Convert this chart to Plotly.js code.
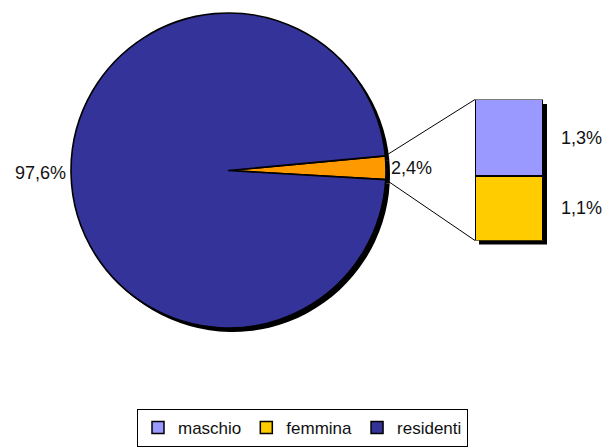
<!DOCTYPE html>
<html><head><meta charset="utf-8">
<script src="https://cdn.plot.ly/plotly-3.0.1.min.js"></script>
<style>html,body{margin:0;padding:0;background:#fff}#chart{width:610px;height:448px}</style>
</head><body><div id="chart"></div>
<script>
// ---- data ----
const pieLabels = ['non residenti', 'residenti'];
const pieValues = [2.4, 97.6];
const barLabels = ['femmina', 'maschio'];   // stack order: bottom to top
const barValues = [1.1, 1.3];
const legendOrder = ['maschio', 'femmina', 'residenti'];
const pieColors = ['#FF9900', '#333399'];
const barColors = {maschio: '#9999FF', femmina: '#FFCC00'};

// ---- geometry / style ----
const W = 610, H = 448;
const FONT = 'Liberation Sans, Arial, sans-serif';
const fmt = v => v.toFixed(1).replace('.', ',') + '%';
const pie = {cx: 228.5, cy: 170.5, r: 157.5};
const SH = 4;   // shadow offset px
const bar = {x0: 475, x1: 543, y0: 99.5, y1: 240.5};
const px = x => x / W, py = y => 1 - y / H;

const total = pieValues.reduce((a, b) => a + b, 0);
const barTotal = barValues.reduce((a, b) => a + b, 0);
const half = pieValues[0] / total * 180;
const tilt = 1;
const rotation = 90 - half - tilt;

function pieDomain(dx, dy) {
  return {
    x: [px(pie.cx - pie.r + dx), px(pie.cx + pie.r + dx)],
    y: [py(pie.cy + pie.r + dy), py(pie.cy - pie.r + dy)]
  };
}

const traces = [];
// pie shadow
traces.push({
  type: 'pie', values: pieValues, labels: pieLabels, sort: false, direction: 'clockwise',
  rotation: rotation, domain: pieDomain(SH, SH), textinfo: 'none', hoverinfo: 'skip',
  marker: {colors: pieValues.map(() => '#000000'), line: {color: '#000', width: 0}},
  showlegend: false
});
// main pie
traces.push({
  type: 'pie', values: pieValues, labels: pieLabels, sort: false, direction: 'clockwise',
  rotation: rotation, domain: pieDomain(0, 0),
  text: pieValues.map(v => fmt(v / total * 100)), textinfo: 'text', textposition: 'outside',
  textfont: {family: FONT, size: 18, color: '#111'},
  marker: {colors: pieColors, line: {color: '#000', width: 1.6}},
  showlegend: false
});
// bar shadow
traces.push({
  type: 'bar', x: [0], y: [barTotal], xaxis: 'x', yaxis: 'y', width: 1,
  marker: {color: '#000', line: {width: 0}}, showlegend: false, hoverinfo: 'skip'
});
// stacked bars
barLabels.forEach((name, i) => {
  traces.push({
    type: 'bar', x: [0], y: [barValues[i]], name: name, xaxis: 'x2', yaxis: 'y2', width: 1,
    marker: {color: barColors[name], line: {color: '#000', width: 1.5}},
    legendrank: legendOrder.indexOf(name) + 1
  });
});
// legend entry for residenti
traces.push({
  type: 'bar', x: [null], y: [null], name: pieLabels[1], xaxis: 'x2', yaxis: 'y2',
  marker: {color: pieColors[1], line: {color: '#000', width: 1.5}},
  legendrank: legendOrder.indexOf(pieLabels[1]) + 1
});

// bar labels
const annotations = [];
let cum = 0;
barValues.forEach(v => {
  annotations.push({
    xref: 'x2', yref: 'y2', x: 0.5, y: cum + v / 2, xanchor: 'left', yanchor: 'middle',
    xshift: 16, text: fmt(v), showarrow: false, font: {family: FONT, size: 18, color: '#111'}
  });
  cum += v;
});

// connector lines
const aTop = (half + tilt) * Math.PI / 180;
const aBot = (tilt - half) * Math.PI / 180;
const shapes = [
  {type: 'line', xref: 'paper', yref: 'paper',
   x0: px(pie.cx + pie.r * Math.cos(aTop)), y0: py(pie.cy - pie.r * Math.sin(aTop)),
   x1: px(bar.x0), y1: py(bar.y0), line: {color: '#000', width: 1}},
  {type: 'line', xref: 'paper', yref: 'paper',
   x0: px(pie.cx + pie.r * Math.cos(aBot)), y0: py(pie.cy - pie.r * Math.sin(aBot)),
   x1: px(bar.x0), y1: py(bar.y1), line: {color: '#000', width: 1}}
];

const layout = {
  width: W, height: H, margin: {l: 0, r: 0, t: 0, b: 0},
  paper_bgcolor: '#fff', plot_bgcolor: 'rgba(0,0,0,0)',
  font: {family: FONT, size: 17, color: '#000'},
  barmode: 'stack', bargap: 0,
  xaxis: {domain: [px(bar.x0 + SH), px(bar.x1 + SH)], range: [-0.5, 0.5], visible: false, fixedrange: true},
  yaxis: {domain: [py(bar.y1 + SH), py(bar.y0 + SH)], range: [0, barTotal], visible: false, fixedrange: true},
  xaxis2: {domain: [px(bar.x0), px(bar.x1)], range: [-0.5, 0.5], visible: false, anchor: 'y2', fixedrange: true},
  yaxis2: {domain: [py(bar.y1), py(bar.y0)], range: [0, barTotal], visible: false, anchor: 'x2', fixedrange: true},
  showlegend: true,
  legend: {orientation: 'h', x: px(137), y: py(409), xanchor: 'left', yanchor: 'top',
           bordercolor: '#000', borderwidth: 1, bgcolor: '#fff',
           font: {family: FONT, size: 17, color: '#111'}, traceorder: 'normal'},
  annotations: annotations,
  shapes: shapes
};

Plotly.newPlot('chart', traces, layout, {staticPlot: true});
</script>
</body></html>
